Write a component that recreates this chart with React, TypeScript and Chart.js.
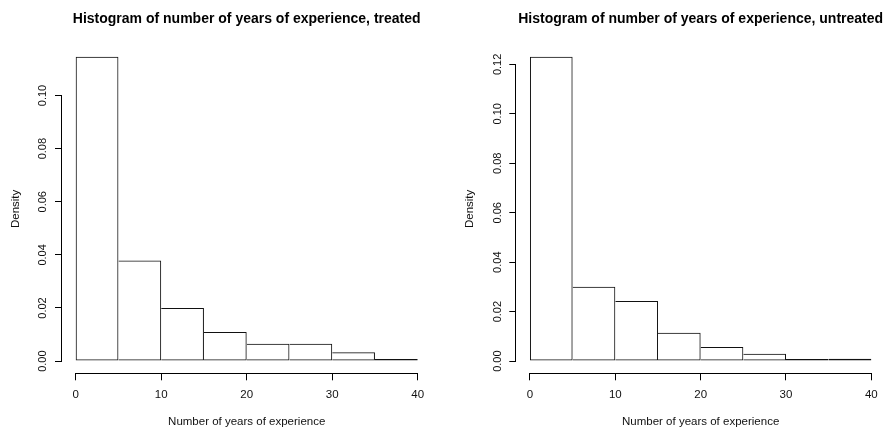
import React, { useEffect, useRef } from "react";
import { Chart, registerables } from "chart.js";

Chart.register(...registerables);

// ---- data ----
const binEdges = [0, 5, 10, 15, 20, 25, 30, 35, 40];
const treatedDensity = [0.1146, 0.0379, 0.02, 0.011, 0.0065, 0.0065, 0.0033, 0.0006];
const untreatedDensity = [0.1231, 0.0301, 0.0243, 0.0115, 0.0057, 0.003, 0.0003, 0.001];
const xTickValues = [0, 10, 20, 30, 40];
const treatedYTicks = [0, 0.02, 0.04, 0.06, 0.08, 0.1];
const untreatedYTicks = [0, 0.02, 0.04, 0.06, 0.08, 0.1, 0.12];
const treatedTitle = "Histogram of number of years of experience, treated";
const untreatedTitle = "Histogram of number of years of experience, untreated";
const xAxisTitle = "Number of years of experience";
const yAxisTitle = "Density";

const FONT = '"Liberation Sans", Arial, Helvetica, sans-serif';
const W = 442;
const H = 430;

const rAxisLines = {
  id: "rAxisLines",
  afterDraw(chart: any) {
    const { ctx, chartArea, scales } = chart;
    const x = scales.x;
    const y = scales.y;
    const xt = x.ticks;
    const yt = y.ticks;
    ctx.save();
    ctx.strokeStyle = "#000";
    ctx.lineWidth = 1;
    ctx.beginPath();
    const by = Math.round(chartArea.bottom) + 0.5;
    ctx.moveTo(x.getPixelForValue(xt[0].value), by);
    ctx.lineTo(x.getPixelForValue(xt[xt.length - 1].value), by);
    const lx = Math.round(chartArea.left) - 0.5;
    ctx.moveTo(lx, y.getPixelForValue(yt[0].value));
    ctx.lineTo(lx, y.getPixelForValue(yt[yt.length - 1].value));
    ctx.stroke();
    ctx.restore();
  },
};

type HistProps = {
  left: number;
  title: string;
  density: number[];
  yTicks: number[];
  padLeft: number;
  padRight: number;
};

function Histogram({ left, title, density, yTicks, padLeft, padRight }: HistProps) {
  const ref = useRef<HTMLCanvasElement>(null);
  useEffect(() => {
    const canvas = ref.current;
    if (!canvas) return;
    const n = density.length;
    const centers = density.map((_, i) => (binEdges[i] + binEdges[i + 1]) / 2);
    const xLo = binEdges[0];
    const xHi = binEdges[binEdges.length - 1];
    const xPad = 0.04 * (xHi - xLo);
    const yMax = Math.max(...density);
    const yPad = 0.04 * yMax;
    const axisFont = { family: FONT, size: 11.5 };

    const chart = new Chart(canvas, {
      type: "bar",
      data: {
        datasets: [
          {
            data: centers.map((c, i) => ({ x: c, y: density[i] })),
            backgroundColor: "rgba(0,0,0,0)",
            borderColor: "#111",
            borderSkipped: false,
            inflateAmount: 0,
            minBarLength: 2,
            barPercentage: 1,
            categoryPercentage: 1,
            borderWidth: (ctx: any) => {
              const i = ctx.dataIndex;
              const l = i === 0 || density[i] > density[i - 1] ? 1 : 0;
              const r = i === n - 1 || density[i] >= density[i + 1] ? 1 : 0;
              return { top: 1, bottom: 1, left: l, right: r };
            },
          } as any,
        ],
      },
      options: {
        responsive: false,
        animation: false,
        devicePixelRatio: 1,
        layout: { padding: { left: padLeft, right: padRight, top: 0, bottom: 0 } },
        plugins: {
          legend: { display: false },
          tooltip: { enabled: false },
          title: {
            display: true,
            text: title,
            color: "#000",
            fullSize: false,
            font: { family: FONT, size: 14, weight: "bold" },
            padding: { top: 10.6, bottom: 17.1 },
          },
        },
        scales: {
          x: {
            type: "linear",
            min: xLo - xPad,
            max: xHi + xPad,
            bounds: "data",
            offset: false,
            afterBuildTicks: (s: any) => {
              s.ticks = xTickValues.map((v) => ({ value: v }));
            },
            afterFit: (s: any) => {
              s.height = 56.7;
              s.paddingLeft = 0;
              s.paddingRight = 0;
            },
            grid: {
              display: true,
              drawOnChartArea: false,
              drawTicks: true,
              tickLength: 7,
              color: "#000",
              lineWidth: 1,
              offset: false,
            },
            border: { display: false },
            ticks: {
              color: "#111",
              font: axisFont,
              padding: 8,
              maxRotation: 0,
              autoSkip: false,
              callback: (v: any) => String(v),
            },
            title: {
              display: true,
              text: xAxisTitle,
              color: "#111",
              font: axisFont,
              padding: { top: 0, bottom: 1 },
            },
          },
          y: {
            type: "linear",
            min: -yPad,
            max: yMax + yPad,
            bounds: "data",
            afterBuildTicks: (s: any) => {
              s.ticks = yTicks.map((v) => ({ value: v }));
            },
            afterFit: (s: any) => {
              s.width = 62;
              s.paddingTop = 0;
              s.paddingBottom = 0;
            },
            grid: {
              display: true,
              drawOnChartArea: false,
              drawTicks: true,
              tickLength: 7,
              color: "#000",
              lineWidth: 1,
            },
            border: { display: false },
            ticks: {
              color: "#111",
              font: { family: FONT, size: 11 },
              padding: 1,
              minRotation: 90,
              maxRotation: 90,
              crossAlign: "center",
              autoSkip: false,
              callback: (v: any) => Number(v).toFixed(2),
            },
            title: {
              display: true,
              text: yAxisTitle,
              color: "#111",
              font: axisFont,
              padding: { top: 9.1, bottom: 0 },
            },
          },
        },
      } as any,
      plugins: [rAxisLines],
    });
    return () => chart.destroy();
  }, [title, density, yTicks, padLeft, padRight]);

  return (
    <canvas
      ref={ref}
      width={W}
      height={H}
      style={{ position: "absolute", left, top: 0, width: W, height: H }}
    />
  );
}

export default function App() {
  return (
    <div
      style={{
        position: "fixed",
        left: 0,
        top: 0,
        width: 885,
        height: 430,
        background: "#fff",
        overflow: "hidden",
      }}
    >
      <Histogram
        left={0}
        title={treatedTitle}
        density={treatedDensity}
        yTicks={treatedYTicks}
        padLeft={0}
        padRight={10.6}
      />
      <Histogram
        left={443}
        title={untreatedTitle}
        density={untreatedDensity}
        yTicks={untreatedYTicks}
        padLeft={11.3}
        padRight={0}
      />
    </div>
  );
}
